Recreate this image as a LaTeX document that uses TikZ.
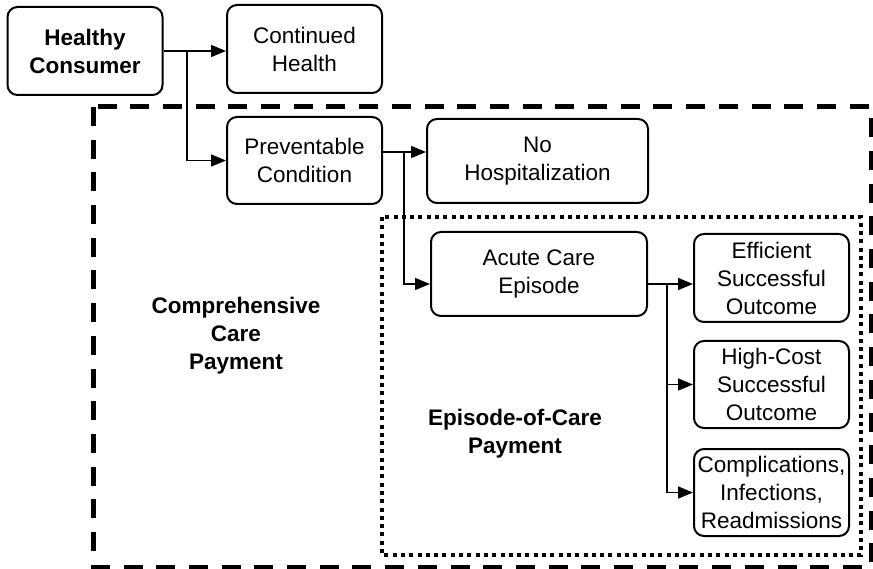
\documentclass[tikz,border=0pt]{standalone}
\usepackage{fontspec}
\setmainfont{Liberation Sans}
\usetikzlibrary{arrows.meta}

\begin{document}
\begin{tikzpicture}[x=1pt,y=-1pt,
    box/.style={draw, line width=2pt, rounded corners=10pt, align=center, inner sep=0pt, font=\fontsize{22.5}{28}\selectfont},
    lbl/.style={align=center, font=\bfseries\fontsize{22.5}{28}\selectfont},
    conn/.style={line width=1.5pt, -{Triangle[length=15pt,width=12pt]}}]
    \useasboundingbox (0,0) rectangle (873,569);

    \draw[line width=5pt, dash pattern=on 19pt off 13.7pt] (93,107) rectangle (871,567);
    \draw[line width=3.6pt, dash pattern=on 4pt off 4.3pt] (382,217) rectangle (861,555);

    \node[box, minimum width=155pt, minimum height=88pt, font=\bfseries\fontsize{22.5}{28}\selectfont] (healthy) at (85,51) {Healthy\\Consumer};
    \node[box, minimum width=155pt, minimum height=88pt] (cont) at (304.5,49) {Continued\\Health};
    \node[box, minimum width=155pt, minimum height=87pt] (prev) at (304.5,160.5) {Preventable\\Condition};
    \node[box, minimum width=221pt, minimum height=84pt] (nohosp) at (537.5,161) {No\\Hospitalization};
    \node[box, minimum width=216pt, minimum height=84pt] (acute) at (539,274) {Acute Care\\Episode};
    \node[box, minimum width=155pt, minimum height=88pt] (eff) at (771.5,278) {Efficient\\Successful\\Outcome};
    \node[box, minimum width=155pt, minimum height=87pt] (high) at (771.5,384.5) {High-Cost\\Successful\\Outcome};
    \node[box, minimum width=155pt, minimum height=87pt] (comp) at (771.5,492.5) {Complications,\\Infections,\\Readmissions};

    \node[lbl] (ccp) at (236,336) {Comprehensive\\Care\\Payment};
    \node[lbl] (ecp) at (515,434) {Episode-of-Care\\Payment};

    \coordinate (s1) at (187,51);
    \coordinate (s2) at (404,152);
    \coordinate (s3) at (667,284);

    \draw[conn] (healthy.east) -- (cont.west |- s1);
    \draw[conn] (s1) |- (prev.west);
    \draw[conn] (prev.east |- s2) -- (nohosp.west |- s2);
    \draw[conn] (s2) |- ([yshift=-10pt]acute.west);
    \draw[conn] (acute.east |- s3) -- (eff.west |- s3);
    \draw[conn] (s3) |- (high.west);
    \draw[conn] (s3) |- (comp.west);
\end{tikzpicture}
\end{document}
